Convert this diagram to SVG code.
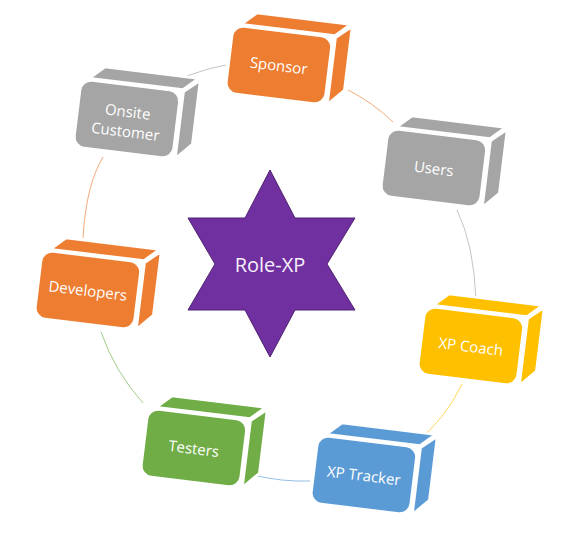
<svg xmlns="http://www.w3.org/2000/svg" xmlns:xlink="http://www.w3.org/1999/xlink" width="583" height="544" viewBox="0 0 583 544">
<style>
.lbl{font-family:"Open Sans","Noto Sans","Liberation Sans",sans-serif;font-size:15px;fill:#ffffff;text-anchor:middle}
.conn{fill:none;stroke-width:1;stroke-opacity:0.65}
</style>
<defs>
<g id="block" stroke="#ffffff" stroke-width="2.5" stroke-linejoin="round">
<path d="M-42,-35 L-28,-48 L66,-48 L52,-35 Z"/>
<path d="M53,-33 L68,-46 L68,18 L53,34 Z"/>
<rect x="-50" y="-33" width="100" height="68" rx="11"/>
</g>
</defs>
<rect width="583" height="544" fill="#ffffff"/>
<g id="connectors">
<path class="conn" stroke="#A5A5A5" d="M178,80 Q200,70 226,65"/>
<path class="conn" stroke="#ED7D31" d="M348,90 Q372,102 393,122"/>
<path class="conn" stroke="#A5A5A5" d="M457,210 Q474,245 476,300"/>
<path class="conn" stroke="#FFC000" d="M462,384 Q445,420 415,443"/>
<path class="conn" stroke="#5B9BD5" d="M310,481 Q282,482 253,475"/>
<path class="conn" stroke="#70AD47" d="M143,403 Q115,372 101,332"/>
<path class="conn" stroke="#ED7D31" d="M83,238 Q86,185 103,157"/>
</g>
<g id="star">
<polygon points="270,170 295,218 355,218 327,264 355,310 295,310 270,357 245,310 188,310 215,264 188,218 245,218" fill="#7030A0" stroke="#4F2270" stroke-width="1"/>
<text x="270" y="272" font-family="'Open Sans','Noto Sans','Liberation Sans',sans-serif" font-size="20" fill="#F7F0FC" text-anchor="middle">Role-XP</text>
</g>
<g id="sponsor" transform="translate(279,64) rotate(7)">
<use xlink:href="#block" fill="#ED7D31"/>
<text class="lbl" x="0" y="7">Sponsor</text>
</g>
<g id="onsite-customer" transform="translate(127,118) rotate(7)">
<use xlink:href="#block" fill="#A5A5A5"/>
<text class="lbl" x="0" y="-1">Onsite</text>
<text class="lbl" x="0" y="19">Customer</text>
</g>
<g id="users" transform="translate(434,167) rotate(7)">
<use xlink:href="#block" fill="#A5A5A5"/>
<text class="lbl" x="0" y="7">Users</text>
</g>
<g id="developers" transform="translate(88,289) rotate(7)">
<use xlink:href="#block" fill="#ED7D31"/>
<text class="lbl" x="0" y="7">Developers</text>
</g>
<g id="xp-coach" transform="translate(471,345) rotate(7)">
<use xlink:href="#block" fill="#FFC000"/>
<text class="lbl" x="0" y="7">XP Coach</text>
</g>
<g id="testers" transform="translate(194,447) rotate(7)">
<use xlink:href="#block" fill="#70AD47"/>
<text class="lbl" x="0" y="7">Testers</text>
</g>
<g id="xp-tracker" transform="translate(364,474) rotate(7)">
<use xlink:href="#block" fill="#5B9BD5"/>
<text class="lbl" x="0" y="7">XP Tracker</text>
</g>
</svg>
